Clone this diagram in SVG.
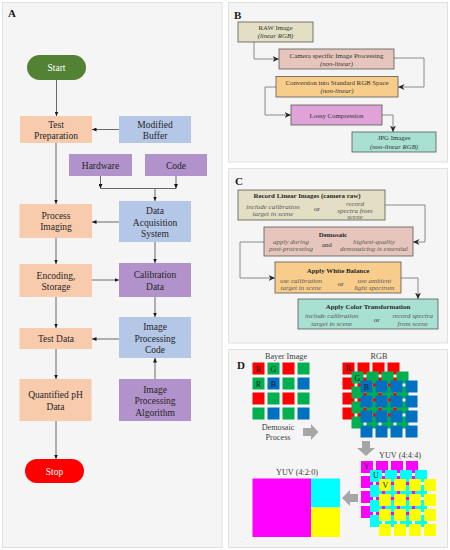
<svg xmlns="http://www.w3.org/2000/svg" width="450" height="550" viewBox="0 0 450 550">
<style>
.panel{fill:#f5f5f5;stroke:#e0e0e0;stroke-width:1}
.plab{font-family:"Liberation Serif",serif;font-weight:bold;font-size:11px;fill:#1a1a1a}
.ta{font-family:"Liberation Serif",serif;font-size:9.5px;fill:#262626;text-anchor:middle}
.tw{font-family:"Liberation Serif",serif;font-size:9.5px;fill:#ffffff;text-anchor:middle}
.tb{font-family:"Liberation Serif",serif;font-size:6.8px;fill:#333;text-anchor:middle}
.tbi{font-family:"Liberation Serif",serif;font-size:6.8px;font-style:italic;fill:#333;text-anchor:middle}
.tch{font-family:"Liberation Serif",serif;font-size:6.9px;font-weight:bold;fill:#262626;text-anchor:middle}
.tci{font-family:"Liberation Serif",serif;font-size:7px;font-style:italic;fill:#595959;text-anchor:middle}
.tcn{font-family:"Liberation Serif",serif;font-size:7px;fill:#333;text-anchor:middle}
.td{font-family:"Liberation Serif",serif;font-size:8.2px;fill:#404040;text-anchor:middle}
.tg{font-family:"Liberation Serif",serif;font-size:8px;fill:#1a1a1a;text-anchor:middle}
.peach{fill:#f8cbad}
.blue{fill:#b4c7e7}
.purp{fill:#b292cb}
.bx{stroke:#595959;stroke-width:0.8}
.ca{fill:none;stroke:#595959;stroke-width:0.9;marker-end:url(#ah)}
.cb{fill:none;stroke:#7f7f7f;stroke-width:0.9;marker-end:url(#ch)}
.garr{fill:#a6a6a6}
</style>
<defs>
<marker id="ah" markerUnits="userSpaceOnUse" markerWidth="5" markerHeight="4" refX="4.5" refY="2" orient="auto">
<path d="M0,0 L4.5,2 L0,4 z" fill="#1a1a1a"/>
</marker>
<marker id="ch" markerUnits="userSpaceOnUse" markerWidth="7" markerHeight="6" refX="6.5" refY="3" orient="auto">
<path d="M0,0 L6.5,3 L0,6 L2,3 z" fill="#262626"/>
</marker>
<rect id="sq" width="12" height="12"/>
</defs>
<rect width="450" height="550" fill="#ffffff"/>

<!-- Panels -->
<rect class="panel" x="2.5" y="2.5" width="219.5" height="545"/>
<rect class="panel" x="228.5" y="2.5" width="219" height="159.5"/>
<rect class="panel" x="228.5" y="168.5" width="219" height="174.5"/>
<rect class="panel" x="228.5" y="349.5" width="219" height="198"/>
<text class="plab" x="8" y="17">A</text>
<text class="plab" x="234" y="19">B</text>
<text class="plab" x="235" y="185">C</text>
<text class="plab" x="237" y="369">D</text>

<!-- Panel A connectors -->
<g id="connectors-a">
<path class="ca" d="M56.5 80 V116"/>
<path class="ca" d="M119 129.5 H92"/>
<path class="ca" d="M100.5 176 V188.5"/>
<path class="ca" d="M176 176 V188.5"/>
<path fill="none" stroke="#595959" stroke-width="0.9" d="M100.5 188.5 H176"/>
<path class="ca" d="M155 188.5 V201"/>
<path class="ca" d="M56 143 V204"/>
<path class="ca" d="M119 222 H92"/>
<path class="ca" d="M56 238 V264"/>
<path class="ca" d="M155 242 V263"/>
<path class="ca" d="M92 280 H119"/>
<path class="ca" d="M56 297 V328"/>
<path class="ca" d="M155 297 V317"/>
<path class="ca" d="M119 339 H92"/>
<path class="ca" d="M56 349 V379"/>
<path class="ca" d="M155 379 V358"/>
<path class="ca" d="M56 421 V459"/>
</g>

<!-- Panel A nodes -->
<g id="start"><rect x="27" y="55" width="59" height="25" rx="12.5" fill="#548235"/><text class="tw" x="56.5" y="71">Start</text></g>
<g id="test-prep"><rect class="peach" x="20" y="116" width="72" height="27"/><text class="ta" x="56" y="128">Test</text><text class="ta" x="56" y="139">Preparation</text></g>
<g id="modified-buffer"><rect class="blue" x="119" y="116" width="72" height="27"/><text class="ta" x="155" y="128">Modified</text><text class="ta" x="155" y="139">Buffer</text></g>
<g id="hardware"><rect class="purp" x="69" y="154" width="63" height="22"/><text class="ta" x="100.5" y="168.5">Hardware</text></g>
<g id="code"><rect class="purp" x="145" y="154" width="62" height="22"/><text class="ta" x="176" y="168.5">Code</text></g>
<g id="das"><rect class="blue" x="119" y="201" width="72" height="41"/><text class="ta" x="155" y="214">Data</text><text class="ta" x="155" y="225.5">Acquisition</text><text class="ta" x="155" y="237">System</text></g>
<g id="process-imaging"><rect class="peach" x="19.5" y="204" width="72.5" height="34"/><text class="ta" x="56" y="219">Process</text><text class="ta" x="56" y="230">Imaging</text></g>
<g id="encoding"><rect class="peach" x="19.5" y="264" width="72.5" height="33"/><text class="ta" x="56" y="278.5">Encoding,</text><text class="ta" x="56" y="290">Storage</text></g>
<g id="calibration"><rect class="purp" x="119" y="263" width="72" height="34"/><text class="ta" x="155" y="278">Calibration</text><text class="ta" x="155" y="289.5">Data</text></g>
<g id="test-data"><rect class="peach" x="19.5" y="328" width="72.5" height="21"/><text class="ta" x="56" y="342">Test Data</text></g>
<g id="ipc"><rect class="blue" x="119" y="317" width="72" height="41"/><text class="ta" x="155" y="330">Image</text><text class="ta" x="155" y="341.5">Processing</text><text class="ta" x="155" y="353">Code</text></g>
<g id="quantified"><rect class="peach" x="19.5" y="379" width="72" height="42"/><text class="ta" x="55.5" y="398">Quantified pH</text><text class="ta" x="55.5" y="409.5">Data</text></g>
<g id="ipa"><rect class="purp" x="119" y="379" width="72" height="42"/><text class="ta" x="155" y="392.5">Image</text><text class="ta" x="155" y="404">Processing</text><text class="ta" x="155" y="415.5">Algorithm</text></g>
<g id="stop"><rect x="25" y="459" width="59" height="24" rx="12" fill="#ff0000"/><text class="tw" x="54.5" y="474.5">Stop</text></g>

<!-- Panel B connectors -->
<g id="connectors-b">
<path class="cb" d="M254 42 V59 H279"/>
<path class="cb" d="M394 58 H424 V87 H398"/>
<path class="cb" d="M276 87 H265 V115 H291"/>
<path class="cb" d="M382 115 H393 V132"/>
</g>
<!-- Panel B nodes -->
<g id="raw"><rect class="bx" x="238" y="22" width="75" height="20" fill="#e2dfc4"/><text class="tb" x="275.5" y="29.5">RAW Image</text><text class="tbi" x="275.5" y="37.8">(linear RGB)</text></g>
<g id="camera"><rect class="bx" x="279" y="49" width="115" height="20" fill="#e6c6bc"/><text class="tb" x="336.5" y="57.5">Camera specific Image Processing</text><text class="tbi" x="336.5" y="65.8">(non-linear)</text></g>
<g id="conversion"><rect class="bx" x="276" y="76.5" width="122" height="20.5" fill="#f8cd8c"/><text class="tb" x="337" y="85">Conversion into  Standard RGB Space</text><text class="tbi" x="337" y="93.3">(non-linear)</text></g>
<g id="lossy"><rect class="bx" x="291" y="105" width="91" height="20" fill="#dfa3d7"/><text class="tb" x="336.5" y="117.5">Lossy Compression</text></g>
<g id="jpg"><rect class="bx" x="352" y="132" width="84" height="20" fill="#a8e0d2"/><text class="tb" x="394" y="140.3">JPG Images</text><text class="tbi" x="394" y="148.5">(non-linear RGB)</text></g>

<!-- Panel C connectors -->
<g id="connectors-c">
<path class="cb" d="M385 205 H425 V242 H413"/>
<path class="cb" d="M264 242 H240 V278 H275"/>
<path class="cb" d="M401 278 H418 V299"/>
</g>
<!-- Panel C nodes -->
<g id="record"><rect class="bx" x="238" y="190" width="147" height="30" fill="#e2dfc4"/>
<text class="tch" x="307" y="198.3">Record Linear Images (camera raw)</text>
<text class="tci" x="273" y="208.5">include calibration</text><text class="tci" x="273" y="216">target in scene</text>
<text class="tcn" x="317" y="210.5">or</text>
<text class="tci" x="355" y="205.6">record</text><text class="tci" x="355" y="212.6">spectra from</text><text class="tci" x="355" y="219.3">scene</text></g>
<g id="demosaic"><rect class="bx" x="264" y="227" width="149" height="29" fill="#e6c6bc"/>
<text class="tch" x="333" y="236.5">Demosaic</text>
<text class="tci" x="291" y="243.5">apply during</text><text class="tci" x="291" y="251">post-processing</text>
<text class="tcn" x="326.7" y="247">and</text>
<text class="tci" x="374" y="243.5">highest-quality</text><text class="tci" x="374" y="251">demosaicing is essential</text></g>
<g id="white-balance"><rect class="bx" x="275" y="262" width="126" height="31" fill="#f8cd8c"/>
<text class="tch" x="338" y="272.5">Apply White Balance</text>
<text class="tci" x="301" y="282.5">use calibration</text><text class="tci" x="301" y="290">target in scene</text>
<text class="tcn" x="340.7" y="285.5">or</text>
<text class="tci" x="374.3" y="282.5">use ambient</text><text class="tci" x="374.3" y="290">light spectrum</text></g>
<g id="color-transform"><rect class="bx" x="298" y="299" width="140" height="30" fill="#a8e0d2"/>
<text class="tch" x="368" y="309">Apply Color Transformation</text>
<text class="tci" x="331.7" y="318">include calibration</text><text class="tci" x="331.7" y="326">target in scene</text>
<text class="tcn" x="376.7" y="322">or</text>
<text class="tci" x="412.7" y="318">record spectra</text><text class="tci" x="412.7" y="326">from scene</text></g>

<!-- Panel D -->
<g id="bayer">
<text class="td" x="286" y="359">Bayer Image</text>
<use href="#sq" x="252.5" y="362.5" fill="#ff0000"/><use href="#sq" x="267.5" y="362.5" fill="#00b050"/><use href="#sq" x="282.5" y="362.5" fill="#ff0000"/><use href="#sq" x="297.5" y="362.5" fill="#00b050"/>
<use href="#sq" x="252.5" y="377.5" fill="#00b050"/><use href="#sq" x="267.5" y="377.5" fill="#0070c0"/><use href="#sq" x="282.5" y="377.5" fill="#00b050"/><use href="#sq" x="297.5" y="377.5" fill="#0070c0"/>
<use href="#sq" x="252.5" y="392.5" fill="#ff0000"/><use href="#sq" x="267.5" y="392.5" fill="#00b050"/><use href="#sq" x="282.5" y="392.5" fill="#ff0000"/><use href="#sq" x="297.5" y="392.5" fill="#00b050"/>
<use href="#sq" x="252.5" y="407.5" fill="#00b050"/><use href="#sq" x="267.5" y="407.5" fill="#0070c0"/><use href="#sq" x="282.5" y="407.5" fill="#00b050"/><use href="#sq" x="297.5" y="407.5" fill="#0070c0"/>
<text class="tg" x="258.5" y="371.5">R</text><text class="tg" x="273.5" y="371.5">G</text>
<text class="tg" x="258.5" y="386.5">R</text><text class="tg" x="273.5" y="386.5">B</text>
<text class="td" x="278" y="430">Demosaic</text><text class="td" x="278" y="440">Process</text>
</g>
<polygon class="garr" points="303,428 311,428 311,424 318.5,432 311,440 311,436 303,436"/>

<g id="rgb">
<text class="td" x="379" y="359">RGB</text>
<g fill="#ff0000">
<use href="#sq" x="342.5" y="362.5"/><use href="#sq" x="357.5" y="362.5"/><use href="#sq" x="372.5" y="362.5"/><use href="#sq" x="387.5" y="362.5"/>
<use href="#sq" x="342.5" y="377.5"/><use href="#sq" x="357.5" y="377.5"/><use href="#sq" x="372.5" y="377.5"/><use href="#sq" x="387.5" y="377.5"/>
<use href="#sq" x="342.5" y="392.5"/><use href="#sq" x="357.5" y="392.5"/><use href="#sq" x="372.5" y="392.5"/><use href="#sq" x="387.5" y="392.5"/>
<use href="#sq" x="342.5" y="407.5"/><use href="#sq" x="357.5" y="407.5"/><use href="#sq" x="372.5" y="407.5"/><use href="#sq" x="387.5" y="407.5"/>
</g>
<g fill="#00b050">
<use href="#sq" x="351.5" y="371.5"/><use href="#sq" x="366.5" y="371.5"/><use href="#sq" x="381.5" y="371.5"/><use href="#sq" x="396.5" y="371.5"/>
<use href="#sq" x="351.5" y="386.5"/><use href="#sq" x="366.5" y="386.5"/><use href="#sq" x="381.5" y="386.5"/><use href="#sq" x="396.5" y="386.5"/>
<use href="#sq" x="351.5" y="401.5"/><use href="#sq" x="366.5" y="401.5"/><use href="#sq" x="381.5" y="401.5"/><use href="#sq" x="396.5" y="401.5"/>
<use href="#sq" x="351.5" y="416.5"/><use href="#sq" x="366.5" y="416.5"/><use href="#sq" x="381.5" y="416.5"/><use href="#sq" x="396.5" y="416.5"/>
</g>
<g fill="#0070c0">
<use href="#sq" x="360.5" y="380.5"/><use href="#sq" x="375.5" y="380.5"/><use href="#sq" x="390.5" y="380.5"/><use href="#sq" x="405.5" y="380.5"/>
<use href="#sq" x="360.5" y="395.5"/><use href="#sq" x="375.5" y="395.5"/><use href="#sq" x="390.5" y="395.5"/><use href="#sq" x="405.5" y="395.5"/>
<use href="#sq" x="360.5" y="410.5"/><use href="#sq" x="375.5" y="410.5"/><use href="#sq" x="390.5" y="410.5"/><use href="#sq" x="405.5" y="410.5"/>
<use href="#sq" x="360.5" y="425.5"/><use href="#sq" x="375.5" y="425.5"/><use href="#sq" x="390.5" y="425.5"/><use href="#sq" x="405.5" y="425.5"/>
</g>
<text class="tg" x="348.3" y="371">R</text><text class="tg" x="357.3" y="381">G</text><text class="tg" x="366.5" y="390">B</text>
</g>
<polygon class="garr" points="362,441 370,441 370,448 375,448 366,456 357,448 362,448"/>

<g id="yuv444">
<text class="td" x="400" y="457.5">YUV (4:4:4)</text>
<g fill="#ff00ff">
<use href="#sq" x="361" y="461"/><use href="#sq" x="376" y="461"/><use href="#sq" x="391" y="461"/><use href="#sq" x="406" y="461"/>
<use href="#sq" x="361" y="476"/><use href="#sq" x="376" y="476"/><use href="#sq" x="391" y="476"/><use href="#sq" x="406" y="476"/>
<use href="#sq" x="361" y="491"/><use href="#sq" x="376" y="491"/><use href="#sq" x="391" y="491"/><use href="#sq" x="406" y="491"/>
<use href="#sq" x="361" y="506"/><use href="#sq" x="376" y="506"/><use href="#sq" x="391" y="506"/><use href="#sq" x="406" y="506"/>
</g>
<g fill="#00ffff">
<use href="#sq" x="370" y="470"/><use href="#sq" x="385" y="470"/><use href="#sq" x="400" y="470"/><use href="#sq" x="415" y="470"/>
<use href="#sq" x="370" y="485"/><use href="#sq" x="385" y="485"/><use href="#sq" x="400" y="485"/><use href="#sq" x="415" y="485"/>
<use href="#sq" x="370" y="500"/><use href="#sq" x="385" y="500"/><use href="#sq" x="400" y="500"/><use href="#sq" x="415" y="500"/>
<use href="#sq" x="370" y="515"/><use href="#sq" x="385" y="515"/><use href="#sq" x="400" y="515"/><use href="#sq" x="415" y="515"/>
</g>
<g fill="#ffff00">
<use href="#sq" x="379" y="479"/><use href="#sq" x="394" y="479"/><use href="#sq" x="409" y="479"/><use href="#sq" x="424" y="479"/>
<use href="#sq" x="379" y="494"/><use href="#sq" x="394" y="494"/><use href="#sq" x="409" y="494"/><use href="#sq" x="424" y="494"/>
<use href="#sq" x="379" y="509"/><use href="#sq" x="394" y="509"/><use href="#sq" x="409" y="509"/><use href="#sq" x="424" y="509"/>
<use href="#sq" x="379" y="524"/><use href="#sq" x="394" y="524"/><use href="#sq" x="409" y="524"/><use href="#sq" x="424" y="524"/>
</g>
<text class="tg" x="366.5" y="469">Y</text><text class="tg" x="375.8" y="478">U</text><text class="tg" x="385.5" y="488">V</text>
</g>
<polygon class="garr" points="358,494 350,494 350,490 342,498 350,506 350,502 358,502"/>

<g id="yuv420">
<text class="td" x="297" y="475">YUV (4:2:0)</text>
<rect x="252.5" y="478.5" width="58.5" height="58.5" fill="#ff00ff"/>
<rect x="311" y="478.5" width="29" height="29" fill="#00ffff"/>
<rect x="311" y="507.5" width="29" height="29.5" fill="#ffff00"/>
</g>
</svg>
